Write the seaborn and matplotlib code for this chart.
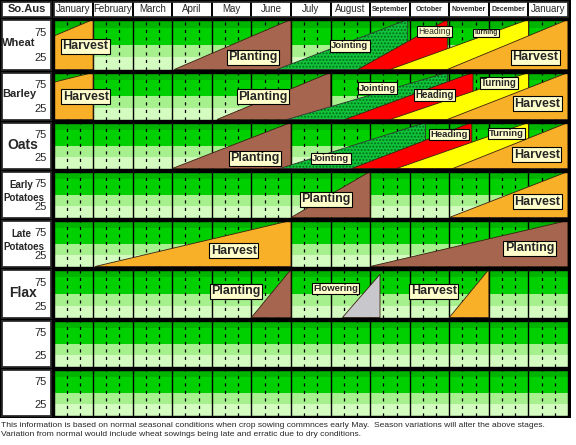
import matplotlib
matplotlib.use("Agg")
import matplotlib.pyplot as plt
import seaborn as sns
from matplotlib.patches import Rectangle

sns.set_theme(style="white")
plt.rcParams['font.family'] = ['Liberation Sans', 'DejaVu Sans']
plt.rcParams['hatch.linewidth'] = 0.9

##########################################
# Data: months, crops and stage wedges
months = ["January", "February", "March", "April", "May", "June", "July",
          "August", "September", "October", "November", "December", "January"]
crops = ["Wheat", "Barley", "Oats", "Early\nPotatoes", "Late\nPotatoes", "Flax", "", ""]
ticks = [75, 25]

# each stage: (name, start month, end month, level reached at end)
wheat = [("Harvest", -2.0, 1.0, 100), ("Planting", 3.05, 6.0, 100),
         ("Jointing", 5.64, 8.95, 100), ("Heading", 7.69, 9.95, 100),
         ("Turning", 8.5, 12.0, 100), ("Harvest", 9.95, 13.0, 100)]
barley = [("Harvest", -3.8, 1.0, 100), ("Planting", 4.13, 7.0, 100),
          ("Jointing", 5.9, 9.95, 100), ("Heading", 7.36, 10.6, 100),
          ("Turning", 8.5, 12.0, 100), ("Harvest", 9.95, 13.0, 100)]
oats = [("Planting", 3.0, 6.0, 100), ("Jointing", 5.72, 9.4, 100),
        ("Heading", 7.54, 10.57, 100), ("Turning", 8.67, 12.0, 100),
        ("Harvest", 10.09, 13.0, 100)]
early_potatoes = [("Planting", 6.0, 8.0, 100), ("Harvest", 10.0, 13.0, 100)]
late_potatoes = [("Harvest", 1.05, 6.0, 100), ("Planting", 8.0, 13.0, 100)]
flax = [("Planting", 5.0, 6.0, 100), ("Flowering", 7.3, 8.25, 90), ("Harvest", 10.0, 11.0, 100)]
stages = [wheat, barley, oats, early_potatoes, late_potatoes, flax, [], []]

# label annotations: (text, month, level, size, bold)
wheat_labels = [("Harvest", 0.8, 47, 9, True), ("Planting", 5.04, 25, 9, True),
                ("Jointing", 7.49, 47, 6.8, True), ("Heading", 9.63, 76, 6.2, False),
                ("Turning", 10.92, 73, 4.8, True), ("Harvest", 12.18, 25, 9, True)]
barley_labels = [("Harvest", 0.82, 48, 9, True), ("Planting", 5.29, 48, 9, True),
                 ("Jointing", 8.19, 67, 6.8, True), ("Heading", 9.63, 52, 7, True),
                 ("Turning", 11.25, 77, 7, True), ("Harvest", 12.23, 33, 9, True)]
oats_labels = [("Planting", 5.09, 22, 9, True), ("Jointing", 7.01, 22, 6.8, True),
               ("Heading", 9.99, 74, 6.8, True), ("Turning", 11.45, 76, 6.8, True),
               ("Harvest", 12.21, 30, 9, True)]
early_labels = [("Planting", 6.88, 40, 9, True), ("Harvest", 12.23, 34, 9, True)]
late_labels = [("Harvest", 4.56, 34, 9, True), ("Planting", 12.03, 40, 9, True)]
flax_labels = [("Planting", 4.61, 55, 9, True), ("Flowering", 7.13, 61, 6.8, True),
               ("Harvest", 9.61, 55, 9, True)]
labels = [wheat_labels, barley_labels, oats_labels, early_labels, late_labels, flax_labels, [], []]

colors = {"Planting": "#a5654f", "Jointing": "#10c23a", "Heading": "#ff0000",
          "Turning": "#ffff00", "Harvest": "#f8b028", "Flowering": "#c8c8cc"}
bands = [(0, 25, "#d4fcc0"), (25, 50, "#a6f08e"), (50, 84, "#00d000"), (84, 100, "#00b400")]

footer = ("This information is based on normal seasonal conditions when crop sowing commnces early May.  "
          "Season variations will alter the above stages.\n"
          "Variation from normal would include wheat sowings being late and erratic due to dry conditions.")

##########################################
W, H = 576, 445
X0, X1 = 53.5, 568
row_edges = [18, 71, 121, 170, 219, 268, 319, 368, 417]


def box(x0, y0, x1, y1):
    return [x0 / W, 1 - y1 / H, (x1 - x0) / W, (y1 - y0) / H]


fig = plt.figure(figsize=(W / 100, H / 100), dpi=100, facecolor='white')
fig.patches.append(Rectangle((0, 1 - 418 / H), 571 / W, 418 / H, transform=fig.transFigure,
                             facecolor='black', edgecolor='none', zorder=-5))

# header
hx = fig.add_axes(box(2, 2, 51, 16.5))
hx.set_facecolor('white')
hx.set_xticks([])
hx.set_yticks([])
hx.text(0.5, 0.5, "So.Aus", ha='center', va='center', fontsize=8, fontweight='bold')

head = fig.add_axes(box(X0, 2, X1, 16.5))
head.set_facecolor('white')
head.set_xlim(0, 13)
head.set_ylim(0, 1)
head.set_xticks([])
head.set_yticks([])
for m in range(1, 13):
    head.axvline(m, color='black', lw=1.4)
for i, name in enumerate(months):
    if name in ("September", "October", "November", "December"):
        head.text(i + 0.5, 0.5, name, ha='center', va='center', fontsize=5.0, fontweight='bold')
    else:
        head.text(i + 0.5, 0.5, name, ha='center', va='center', fontsize=7)

# crop rows
for i, crop in enumerate(crops):
    top, bottom = row_edges[i] + 1.5, row_edges[i + 1] - 1.5

    lx = fig.add_axes(box(2, top, 51, bottom))
    lx.set_facecolor('white')
    lx.set_xlim(0, 1)
    lx.set_ylim(0, 1)
    lx.set_xticks([])
    lx.set_yticks([])
    if "\n" in crop:
        first, second = crop.split("\n")
        lx.text(0.4, 0.7, first, ha='center', va='center', fontsize=7, fontweight='bold')
        lx.text(0.44, 0.42, second, ha='center', va='center', fontsize=7, fontweight='bold')
    elif crop in ("Oats", "Flax"):
        lx.text(0.1 if crop == "Oats" else 0.14, 0.52, crop, ha='left', va='center',
                fontsize=10, fontweight='bold')
    else:
        lx.text(0.0, 0.54, crop, ha='left', va='center', fontsize=8, fontweight='bold')

    ax = fig.add_axes(box(X0, top, X1, bottom))
    ax.set_xlim(0, 13)
    ax.set_ylim(0, 100)
    for lo, hi, c in bands:
        ax.axhspan(lo, hi, color=c, lw=0, zorder=0)
    for m in range(13):
        if m > 0:
            ax.axvline(m, color='black', lw=1.0, zorder=1)
        for f in (1 / 3, 2 / 3):
            ax.axvline(m + f, color='black', lw=0.9, ls=(0, (2.5, 3.5)), zorder=1)

    for name, s, e, lvl in stages[i]:
        xs, ys = [s, e, e], [0, lvl, 0]
        if name == "Jointing":
            ax.fill(xs, ys, facecolor=colors[name], edgecolor='#006a18', hatch='.....',
                    lw=0, zorder=2)
            ax.fill(xs, ys, fill=False, edgecolor='#333333', lw=0.6, zorder=2)
        else:
            ax.fill(xs, ys, facecolor=colors[name], edgecolor='#3a2010', lw=0.6, zorder=2)

    for text, x, y, size, bold in labels[i]:
        ax.text(x, y, text, ha='center', va='center', fontsize=size,
                fontweight='bold' if bold else 'normal', zorder=4,
                bbox=dict(boxstyle='square,pad=0.12', facecolor='#ffffcc', edgecolor='black', lw=0.8))

    ax.set_xticks([])
    ax.set_yticks(ticks)
    ax.set_yticklabels([str(t) for t in ticks], fontsize=8)
    ax.tick_params(axis='y', length=0, pad=5)
    for sp in ax.spines.values():
        sp.set_color('black')
        sp.set_linewidth(1.0)

fig.text(1 / W, 1 - 430 / H, footer, ha='left', va='center', fontsize=6.1, linespacing=1.3)

fig.savefig("out.png", dpi=100, facecolor='white')
